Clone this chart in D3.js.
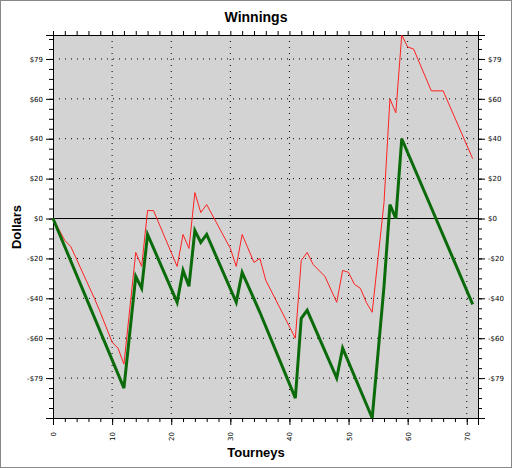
<!DOCTYPE html>
<html><head><meta charset="utf-8">
<script src="https://cdn.jsdelivr.net/npm/d3@7"></script>
<style>body{margin:0;background:#fff}</style>
</head><body>
<svg id="chart" width="512" height="468"></svg>
<script>
// Green series (thick)
let greenX = [0, 12, 14, 15, 16, 21, 22, 23, 24, 25, 26, 31, 32, 35, 41, 42, 43, 48, 49, 54, 56, 57, 58, 59, 71];
let greenY = [0, -85, -29, -35, -8, -42, -26, -34, -6, -12, -8, -42, -27, -47, -90, -50, -46, -80, -65, -100, -34, 7, 0, 40, -43];
// Red series (thin)
let redX = [0, 2, 3, 7, 8, 10, 11, 12, 14, 15, 16, 17, 21, 22, 23, 24, 25, 26, 30, 31, 32, 34, 35, 36, 41, 42, 43, 44, 46, 48, 49, 50, 51, 52, 53, 54, 56, 57, 58, 59, 60, 61, 64, 66, 71];
let redY = [0, -11, -14, -40, -47, -62, -65, -73, -17, -24, 4, 4, -24, -8, -15, 13, 3, 7, -15, -24, -8, -22, -20, -31, -60, -21, -17, -23, -29, -42, -26, -27, -33, -35, -42, -47, 8, 60, 53, 92, 86, 85, 64, 64, 30];
let yTicks = [80, 60, 40, 20, 0, -20, -40, -60, -80];
let yLabels = ["$79", "$60", "$40", "$20", "$0", "-$20", "-$40", "-$60", "-$79"];
let xTicks = [0, 10, 20, 30, 40, 50, 60, 70];

let svg = d3.select("#chart");
let pLeft = 53, pRight = 478, pTop = 35, pBottom = 418;

svg.append("rect").attr("x", 0.5).attr("y", 0.5).attr("width", 511).attr("height", 467)
  .attr("fill", "#fff").attr("stroke", "#888");

let x = d3.scaleLinear().domain([0, 71.9]).range([pLeft, pRight]);
let y = d3.scaleLinear().domain([-100, 92]).range([pBottom, pTop]);

svg.append("rect").attr("x", pLeft).attr("y", pTop).attr("width", pRight - pLeft).attr("height", pBottom - pTop)
  .attr("fill", "#d3d3d3");

// grid
svg.selectAll(".gx").data(xTicks.slice(1)).enter().append("line")
  .attr("x1", d => x(d)).attr("x2", d => x(d)).attr("y1", pTop).attr("y2", pBottom)
  .attr("stroke", "#000").attr("stroke-dasharray", "1,5");
svg.selectAll(".gy").data(yTicks.filter(d => d != 0)).enter().append("line")
  .attr("x1", pLeft).attr("x2", pRight).attr("y1", d => y(d)).attr("y2", d => y(d))
  .attr("stroke", "#000").attr("stroke-dasharray", "1,5");

// axes
let yMinor = d3.range(-100, 92, 5);
let f = 7;
svg.append("g").attr("transform", `translate(${pLeft},0)`)
  .call(d3.axisLeft(y).tickValues(yMinor).tickSize(4).tickFormat(""));
svg.append("g").attr("transform", `translate(${pLeft},0)`)
  .call(d3.axisLeft(y).tickValues(yTicks).tickSize(7).tickFormat((d, i) => yLabels[i]))
  .selectAll("text").attr("font-size", f).attr("font-family", "DejaVu Sans");
svg.append("g").attr("transform", `translate(${pRight},0)`)
  .call(d3.axisRight(y).tickValues(yMinor).tickSize(4).tickFormat(""));
svg.append("g").attr("transform", `translate(${pRight},0)`)
  .call(d3.axisRight(y).tickValues(yTicks).tickSize(7).tickFormat((d, i) => yLabels[i]))
  .selectAll("text").attr("font-size", f).attr("font-family", "DejaVu Sans");
svg.append("g").attr("transform", `translate(0,${pTop})`)
  .call(d3.axisTop(x).tickValues(d3.range(0, 72, 2)).tickSize(4).tickFormat(""));
svg.append("g").attr("transform", `translate(0,${pBottom})`)
  .call(d3.axisBottom(x).tickValues(d3.range(0, 72, 2)).tickSize(4).tickFormat(""));
let xa = svg.append("g").attr("transform", `translate(0,${pBottom})`)
  .call(d3.axisBottom(x).tickValues(xTicks).tickSize(7));
xa.selectAll("text").attr("font-size", f).attr("font-family", "DejaVu Sans")
  .attr("transform", "rotate(-90)").attr("text-anchor", "end")
  .attr("x", -14).attr("y", 0).attr("dy", "0.35em");
svg.selectAll(".domain").attr("stroke", "#000");

// zero line
svg.append("line").attr("x1", pLeft).attr("x2", pRight).attr("y1", y(0)).attr("y2", y(0))
  .attr("stroke", "#000").attr("stroke-width", 1);

let line = d3.line().x(d => x(d[0])).y(d => y(d[1]));
svg.append("path").datum(redX.map((v, i) => [v, redY[i]])).attr("d", line)
  .attr("fill", "none").attr("stroke", "#ff2020").attr("stroke-width", 1);
svg.append("path").datum(greenX.map((v, i) => [v, greenY[i]])).attr("d", line)
  .attr("fill", "none").attr("stroke", "#0b6b0b").attr("stroke-width", 3);

svg.append("text").attr("x", 256).attr("y", 22).attr("text-anchor", "middle")
  .attr("font-family", "Liberation Sans").attr("font-weight", "bold").attr("font-size", 14).text("Winnings");
svg.append("text").attr("x", 256).attr("y", 457).attr("text-anchor", "middle")
  .attr("font-family", "Liberation Sans").attr("font-weight", "bold").attr("font-size", 13).text("Tourneys");
svg.append("text").attr("transform", "translate(21,227) rotate(-90)").attr("text-anchor", "middle")
  .attr("font-family", "Liberation Sans").attr("font-weight", "bold").attr("font-size", 13).text("Dollars");
</script>
</body></html>
